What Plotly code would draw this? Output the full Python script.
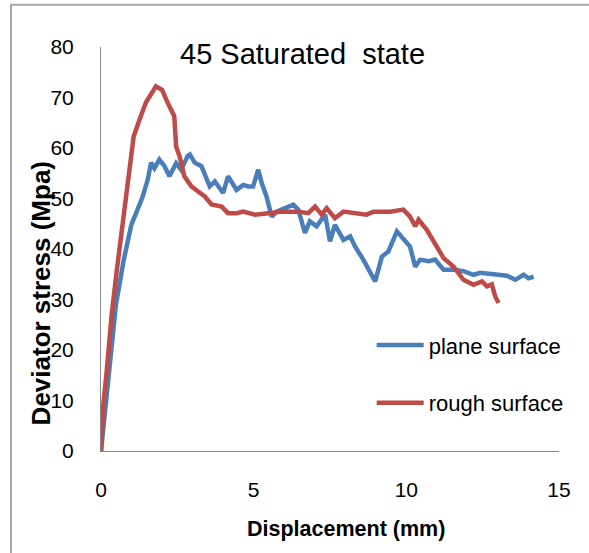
import plotly.graph_objects as go

plane_x = [0, 0.07, 0.14, 0.27, 0.49, 0.74, 0.99, 1.36, 1.53, 1.64, 1.75, 1.91, 2.08, 2.24, 2.46, 2.62,
           2.84, 2.91, 3.07, 3.29, 3.56, 3.73, 4.0, 4.16, 4.44, 4.66, 4.82, 4.98, 5.15, 5.26, 5.42, 5.59, 5.75,
           6.02, 6.3, 6.46, 6.68, 6.84, 7.06, 7.34, 7.5, 7.66, 7.94, 8.16, 8.32, 8.59, 8.98, 9.2, 9.41, 9.69,
           9.96, 10.12, 10.29, 10.45, 10.73, 10.94, 11.22, 11.55, 11.87, 12.2, 12.42, 12.86, 13.3, 13.57,
           13.84, 14.0, 14.17]
plane_y = [0, 4.5, 9.4, 16, 29, 37.7, 44.7, 50.3, 53.7, 57.1, 56, 57.7, 56.4, 54.4, 57, 55.7,
           58.4, 58.7, 57.1, 56.4, 52.4, 53.4, 51.1, 54.4, 51.7, 52.7, 52.4, 52.4, 55.7, 53.1, 50.4, 46.4, 47.4,
           48.2, 48.8, 47.8, 43.2, 45.5, 44.5, 46.8, 41.5, 44.8, 41.8, 42.5, 40.5, 37.9, 33.6, 38.5, 39.5, 43.5,
           41.8, 40.5, 36.5, 37.9, 37.6, 37.9, 35.9, 35.9, 35.6, 34.9, 35.3, 34.9, 34.7, 33.9,
           34.9, 34.2, 34.5]

rough_x = [0, 0.04, 0.08, 0.19, 0.35, 0.52, 0.65, 0.78, 0.91, 1.07, 1.26, 1.47, 1.8, 2.0, 2.18, 2.4, 2.46,
           2.57, 2.73, 2.96, 3.18, 3.4, 3.62, 3.95, 4.16, 4.44, 4.66, 5.04, 5.48, 5.92, 6.46, 6.79, 7.01, 7.23,
           7.39, 7.66, 7.94, 8.3, 8.7, 8.92, 9.47, 9.9, 10.12, 10.29, 10.4, 10.67, 11.0, 11.22, 11.55,
           11.77, 11.87, 12.2, 12.48, 12.64, 12.8, 12.91, 13.02]
rough_y = [0, 4.5, 9.4, 16, 27, 35.9, 42.5, 49.1, 55.7, 62.3, 65.6, 69, 72.2, 71.5, 69, 66.3, 60.3,
           58.4, 54.4, 52.4, 51.4, 50.4, 48.8, 48.4, 47.1, 47.1, 47.4, 46.8, 47.1, 47.4, 47.4, 47.1, 48.4, 46.8,
           48.1, 46.1, 47.4, 47.2, 46.8, 47.4, 47.4, 47.8, 46.4, 44.5, 45.8, 43.8, 40.5, 38.2, 36.5,
           34.5, 33.9, 32.9, 33.6, 32.6, 33.0, 30.6, 29.3]

series_names = ["plane surface", "rough surface"]
x_ticks = [0, 5, 10, 15]
y_ticks = [0, 10, 20, 30, 40, 50, 60, 70, 80]
title_text = "45 Saturated\u00a0 state"
x_title = "Displacement (mm)"
y_title = "Deviator stress (Mpa)"

FONT = "Liberation Sans, Arial, sans-serif"

fig = go.Figure()
fig.add_trace(go.Scatter(x=plane_x, y=plane_y, mode="lines", name=series_names[0],
                         line=dict(color="#4a7ebb", width=4.5), legendgroup="a"))
fig.add_trace(go.Scatter(x=rough_x, y=rough_y, mode="lines", name=series_names[1],
                         line=dict(color="#be4b48", width=4.5), legendgroup="b"))

fig.update_layout(
    width=589, height=553,
    margin=dict(l=101, r=30, t=47, b=102),
    plot_bgcolor="white", paper_bgcolor="white",
    font=dict(family=FONT, size=21, color="#000000"),
    showlegend=True,
    legend=dict(x=0.591, y=0.19, xanchor="left", yanchor="middle",
                font=dict(family=FONT, size=22, color="#000000"),
                traceorder="grouped", tracegroupgap=26, itemwidth=47,
                bgcolor="rgba(0,0,0,0)"),
    xaxis=dict(range=[0, 15], tickvals=x_ticks, showgrid=False, zeroline=False,
               showline=True, linecolor="#868686", linewidth=1, ticks="",
               ticklabelstandoff=20, tickfont=dict(family=FONT, size=21)),
    yaxis=dict(range=[0, 80], tickvals=y_ticks, showgrid=False, zeroline=False,
               showline=True, linecolor="#868686", linewidth=1, ticks="",
               ticklabelstandoff=22, tickfont=dict(family=FONT, size=21)),
)

fig.add_annotation(text=title_text, xref="paper", yref="paper", x=0.441, y=0.9817,
                   xanchor="center", yanchor="middle", showarrow=False,
                   font=dict(family=FONT, size=29, color="#000000"))
fig.add_annotation(text="<b>" + x_title + "</b>", xref="paper", yref="paper", x=0.535, y=-0.194,
                   xanchor="center", yanchor="middle", showarrow=False,
                   font=dict(family=FONT, size=21.5, color="#000000"))
fig.add_annotation(text="<b>" + y_title + "</b>", xref="paper", yref="paper", x=-0.132, y=0.389,
                   xanchor="center", yanchor="middle", showarrow=False, textangle=-90,
                   font=dict(family=FONT, size=26, color="#000000"))

fig.add_shape(type="rect", xref="paper", yref="paper", x0=-0.1966, y0=-0.28, x1=1.1, y1=1.1044,
              line=dict(color="#a6a6a6", width=2), fillcolor="rgba(0,0,0,0)", layer="below")

fig.write_html("out.html")
